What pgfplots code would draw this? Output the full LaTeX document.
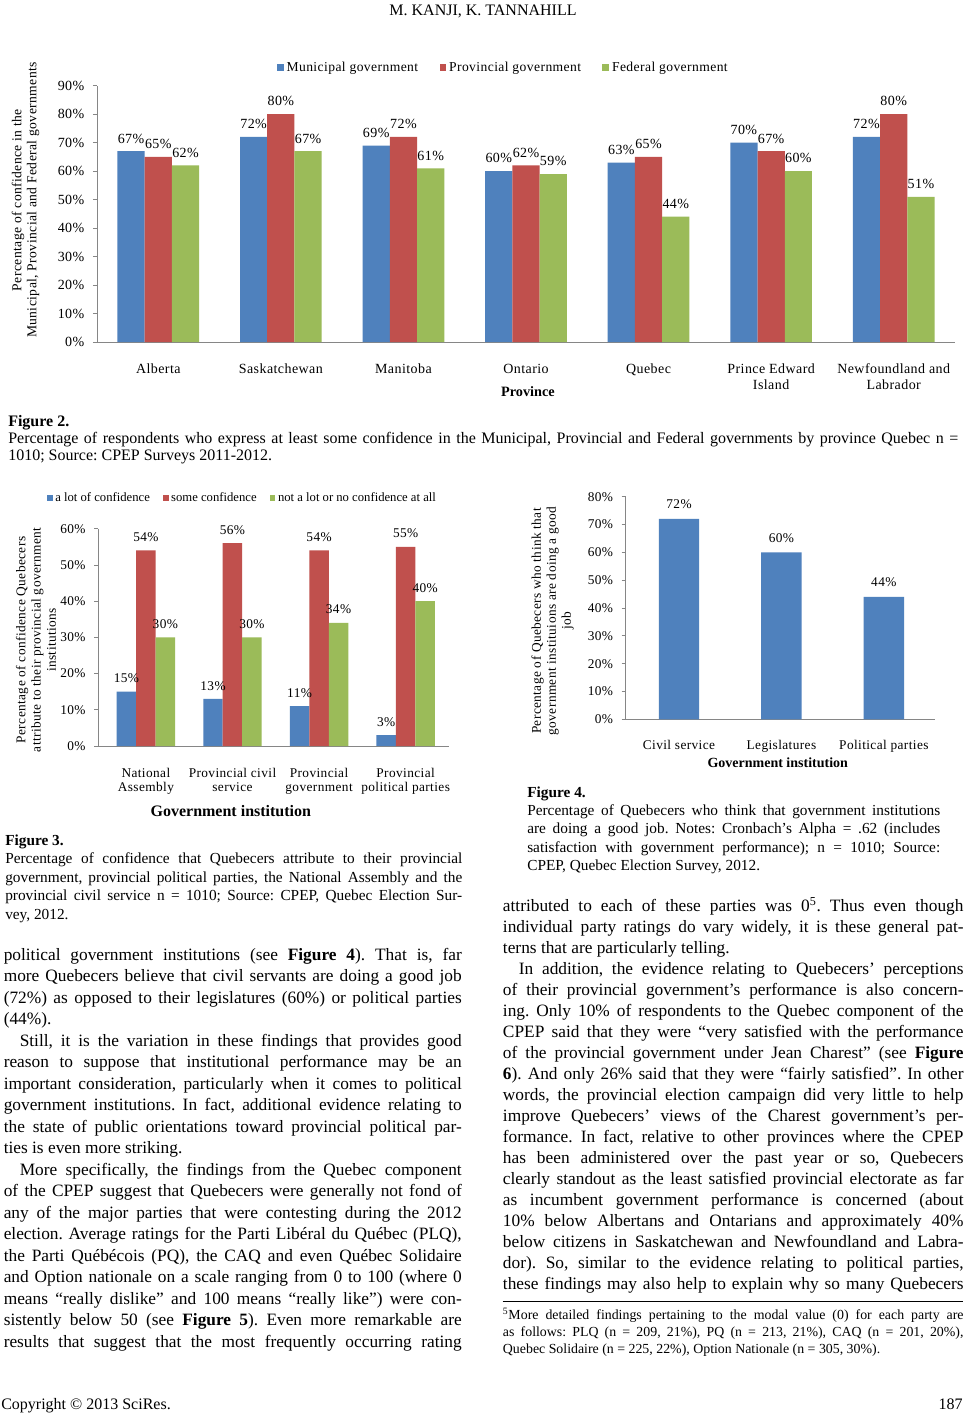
\documentclass[border=0pt]{standalone}
\usepackage{pgfplots}
\pgfplotsset{compat=1.18}
\usepackage{fontspec}
\usepackage{graphicx}
\setmainfont{Liberation Serif}
\newfontfamily\cf[LetterSpace=3]{Liberation Serif}
\definecolor{cblue}{RGB}{79,129,189}
\definecolor{cred}{RGB}{192,80,77}
\definecolor{cgreen}{RGB}{155,187,89}
\definecolor{axgray}{RGB}{134,134,134}
\newcommand\J[1]{\hbox to\hsize{#1}}
\newcommand\E[1]{\hbox to\hsize{#1\hfil}}
\newcommand\I[1]{\hbox to\hsize{\hskip12pt #1}}
\frenchspacing
\pgfplotsset{
  sqleg/.style={legend image code/.code={\fill[##1] (0pt,-#1) rectangle (2*#1,#1);}},
  lblshift/.style={every node near coord/.append style={xshift=#1}},
  excel/.style={scale only axis, axis x line*=bottom, axis y line*=left,
    axis line style={draw=axgray, line width=0.6pt, -},
    tick align=outside, major tick length=3pt,
    y tick style={draw=axgray, line width=0.6pt}, x tick style={draw=none},
    ymin=0, clip=false, /pgf/number format/assume math mode=true,
    legend style={draw=none, fill=none, legend columns=3},
    nodes near coords={\pgfmathprintnumber{\pgfplotspointmeta}\%},
    xticklabel style={align=center, anchor=north},
    yticklabel style={xshift=-3pt},
    ylabel style={anchor=center, align=center},
    xlabel style={anchor=center}}
}
\begin{document}
\begin{tikzpicture}
\begin{scope}[x=0.75pt,y=-0.75pt]
\fill[white] (0,0) rectangle (967,1414);
\useasboundingbox (0,0) rectangle (967,1414);
\end{scope}

% ---------------- Figure 2 ----------------
\begin{axis}[excel, width=643.5pt, height=192.2pt, at={(72.75pt,-256.5pt)}, anchor=south west,
  xmin=-0.5, xmax=6.5, ymax=90, ytick={0,10,...,90},
  yticklabels={0\%,10\%,20\%,30\%,40\%,50\%,60\%,70\%,80\%,90\%},
  xtick={0,...,6},
  xticklabels={Alberta,Saskatchewan,Manitoba,Ontario,Quebec,{Prince Edward\\Island},{Newfoundland and\\Labrador}},
  tick label style={font=\cf\fontsize{10.5}{12}\selectfont},
  xticklabel style={yshift=-10pt},
  ylabel={Percentage of confidence in the\\Municipal, Provincial and Federal governments},
  ylabel style={at={(axis description cs:-0.0833,0.554)}, font=\cf\fontsize{10.2}{11.25}\selectfont},
  xlabel={Province},
  xlabel style={at={(axis description cs:0.5023,-0.195)}, font=\bfseries\fontsize{10.7}{12}\selectfont},
  legend style={at={(0.474,1.07)}, anchor=center, font=\cf\fontsize{10.2}{12}\selectfont,
    /tikz/every even column/.append style={column sep=14pt}},
  every node near coord/.append style={font=\cf\fontsize{10.5}{12}\selectfont, text=black, yshift=2.5pt},
]
\addplot[ybar, fill=cblue, draw=none, bar width=0.2222, bar shift=-0.2222, sqleg=2.6pt, lblshift=-20.43pt]
  coordinates {(0,67) (1,72) (2,69) (3,60) (4,63) (5,70) (6,72)};
\addplot[ybar, fill=cred, draw=none, bar width=0.2222, bar shift=0, sqleg=2.6pt]
  coordinates {(0,65) (1,80) (2,72) (3,62) (4,65) (5,67) (6,80)};
\addplot[ybar, fill=cgreen, draw=none, bar width=0.2222, bar shift=0.2222, sqleg=2.6pt, lblshift=20.43pt]
  coordinates {(0,62) (1,67) (2,61) (3,59) (4,44) (5,60) (6,51)};
\legend{Municipal government, Provincial government, Federal government}
\end{axis}

% ---------------- Figure 3 ----------------
\begin{axis}[excel, width=263pt, height=163pt, at={(73.7pt,-559.5pt)}, anchor=south west,
  xmin=-0.55, xmax=3.5, ymax=60, ytick={0,10,...,60},
  yticklabels={0\%,10\%,20\%,30\%,40\%,50\%,60\%},
  xtick={0,...,3},
  xticklabels={{National\\Assembly},{Provincial civil\\service},{Provincial\\government},{Provincial\\political parties}},
  tick label style={font=\cf\fontsize{10}{10.7}\selectfont},
  xticklabel style={yshift=-10pt},
  ylabel={Percentage of confidence Quebecers\\attribute to their provincial government\\institutions},
  ylabel style={at={(axis description cs:-0.1776,0.488)}, font=\cf\fontsize{10}{11.5}\selectfont},
  xlabel={Government institution},
  xlabel style={at={(axis description cs:0.378,-0.298)}, font=\bfseries\fontsize{12}{13}\selectfont},
  legend style={at={(0.4126,1.141)}, anchor=center, font=\fontsize{9.5}{11}\selectfont,
    /tikz/every even column/.append style={column sep=8pt}},
  every node near coord/.append style={font=\cf\fontsize{10}{12}\selectfont, text=black, yshift=3pt},
]
\addplot[ybar, fill=cblue, draw=none, bar width=0.225, bar shift=-0.225, sqleg=2pt, lblshift=-14.61pt]
  coordinates {(0,15) (1,13) (2,11) (3,3)};
\addplot[ybar, fill=cred, draw=none, bar width=0.225, bar shift=0, sqleg=2pt]
  coordinates {(0,54) (1,56) (2,54) (3,55)};
\addplot[ybar, fill=cgreen, draw=none, bar width=0.225, bar shift=0.225, sqleg=2pt, lblshift=14.61pt]
  coordinates {(0,30) (1,30) (2,34) (3,40)};
\legend{a lot of confidence, some confidence, not a lot or no confidence at all}
\end{axis}

% ---------------- Figure 4 ----------------
\begin{axis}[excel, width=232pt, height=167pt, at={(469.3pt,-539.5pt)}, anchor=south west,
  xmin=-0.52, xmax=2.5, ymax=80, ytick={0,10,...,80},
  yticklabels={0\%,10\%,20\%,30\%,40\%,50\%,60\%,70\%,80\%},
  xtick={0,1,2},
  xticklabels={Civil service,Legislatures,Political parties},
  tick label style={font=\cf\fontsize{10}{11}\selectfont},
  xticklabel style={yshift=-9pt},
  ylabel={Percentage of Quebecers who think that\\government instituions are doing a good\\job},
  ylabel style={at={(axis description cs:-0.2367,0.4416)}, font=\cf\fontsize{10}{11.25}\selectfont},
  xlabel={Government institution},
  xlabel style={at={(axis description cs:0.4914,-0.195)}, font=\bfseries\fontsize{10.5}{12}\selectfont},
  every node near coord/.append style={font=\cf\fontsize{10}{12}\selectfont, text=black, yshift=4pt},
]
\addplot[ybar, fill=cblue, draw=none, bar width=0.395, bar shift=0]
  coordinates {(0,72) (1,60) (2,44)};
\end{axis}

% ---------------- Text ----------------
\begin{scope}[x=0.75pt,y=-0.75pt]
\node[anchor=base, inner sep=0pt] at (483,15) {\fontsize{12}{14}\selectfont M. KANJI, K. TANNAHILL};

\node[anchor=base west, inner sep=0pt] at (8,426) {\vtop{\hsize=712.5pt\fontsize{12}{13.1}\selectfont
\E{\textbf{Figure 2.}}
\J{Percentage of respondents who express at least some confidence in the Municipal, Provincial and Federal governments by province Quebec n =}
\E{1010; Source: CPEP Surveys 2011-2012.}}};

\node[anchor=base west, inner sep=0pt] at (5,845) {\vtop{\hsize=342.75pt\fontsize{11.5}{13.9}\selectfont
\E{\textbf{Figure 3.}}
\J{Percentage of confidence that Quebecers attribute to their provincial}
\J{government, provincial political parties, the National Assembly and the}
\J{provincial civil service n = 1010; Source: CPEP, Quebec Election Sur-}
\E{vey, 2012.}}};

\node[anchor=base west, inner sep=0pt] at (527,797) {\vtop{\hsize=309.75pt\fontsize{11.5}{13.75}\selectfont
\E{\textbf{Figure 4.}}
\J{Percentage of Quebecers who think that government institutions}
\J{are doing a good job. Notes: Cronbach’s Alpha = .62 (includes}
\J{satisfaction with government performance); n = 1010; Source:}
\E{CPEP, Quebec Election Survey, 2012.}}};

\node[anchor=base west, inner sep=0pt] at (3.5,960) {\vtop{\hsize=343.5pt\fontsize{13}{16.125}\selectfont
\J{political government institutions (see \textbf{Figure 4}). That is, far}
\J{more Quebecers believe that civil servants are doing a good job}
\J{(72\%) as opposed to their legislatures (60\%) or political parties}
\E{(44\%).}
\I{Still, it is the variation in these findings that provides good}
\J{reason to suppose that institutional performance may be an}
\J{important consideration, particularly when it comes to political}
\J{government institutions. In fact, additional evidence relating to}
\J{the state of public orientations toward provincial political par-}
\E{ties is even more striking.}
\I{More specifically, the findings from the Quebec component}
\J{of the CPEP suggest that Quebecers were generally not fond of}
\J{any of the major parties that were contesting during the 2012}
\J{election. Average ratings for the Parti Libéral du Québec (PLQ),}
\J{the Parti Québécois (PQ), the CAQ and even Québec Solidaire}
\J{and Option nationale on a scale ranging from 0 to 100 (where 0}
\J{means “really dislike” and 100 means “really like”) were con-}
\J{sistently below 50 (see \textbf{Figure 5}). Even more remarkable are}
\J{results that suggest that the most frequently occurring rating}}};

\node[anchor=base west, inner sep=0pt] at (502.7,911) {\vtop{\hsize=345.45pt\fontsize{13}{15.75}\selectfont
\J{attributed to each of these parties was 0\textsuperscript{5}. Thus even though}
\J{individual party ratings do vary widely, it is these general pat-}
\E{terns that are particularly telling.}
\I{In addition, the evidence relating to Quebecers’ perceptions}
\J{of their provincial government’s performance is also concern-}
\J{ing. Only 10\% of respondents to the Quebec component of the}
\J{CPEP said that they were “very satisfied with the performance}
\J{of the provincial government under Jean Charest” (see \textbf{Figure}}
\J{\textbf{6}). And only 26\% said that they were “fairly satisfied”. In other}
\J{words, the provincial election campaign did very little to help}
\J{improve Quebecers’ views of the Charest government’s per-}
\J{formance. In fact, relative to other provinces where the CPEP}
\J{has been administered over the past year or so, Quebecers}
\J{clearly standout as the least satisfied provincial electorate as far}
\J{as incumbent government performance is concerned (about}
\J{10\% below Albertans and Ontarians and approximately 40\%}
\J{below citizens in Saskatchewan and Newfoundland and Labra-}
\J{dor). So, similar to the evidence relating to political parties,}
\J{these findings may also help to explain why so many Quebecers}}};

\draw[line width=0.7pt] (502.7,1301.7) -- (963,1301.7);
\node[anchor=base west, inner sep=0pt] at (502.7,1319) {\vtop{\hsize=345.45pt\fontsize{10.4}{13.1}\selectfont
\J{\textsuperscript{5}More detailed findings pertaining to the modal value (0) for each party are}
\J{as follows: PLQ (n = 209, 21\%), PQ (n = 213, 21\%), CAQ (n = 201, 20\%),}
\E{Quebec Solidaire (n = 225, 22\%), Option Nationale (n = 305, 30\%).}}};

\node[anchor=base west, inner sep=0pt] at (1,1409) {\fontsize{12}{14}\selectfont Copyright © 2013 SciRes.};
\node[anchor=base east, inner sep=0pt] at (963,1409) {\fontsize{12}{14}\selectfont 187};
\end{scope}
\end{tikzpicture}
\end{document}
